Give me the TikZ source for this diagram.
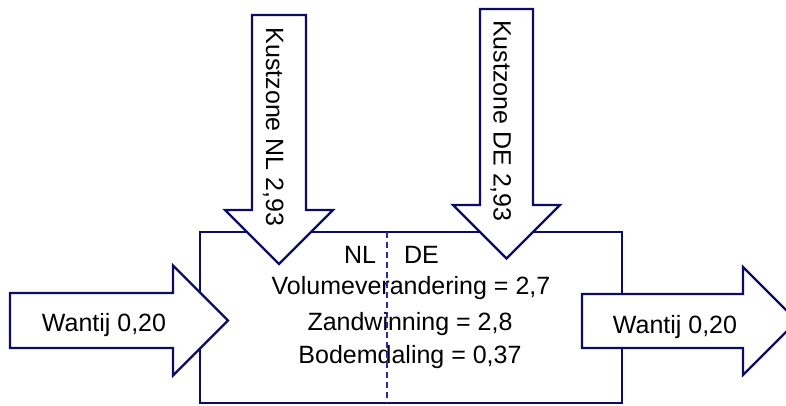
\documentclass[tikz,border=0pt]{standalone}
\usepackage{fontspec}
\setmainfont{Liberation Sans}
\definecolor{rand}{RGB}{12,12,100}
\definecolor{grens}{RGB}{40,40,170}
\begin{document}
\begin{tikzpicture}[x=0.75pt,y=-0.75pt,
    pijl/.style={draw=rand,line width=1.7pt,fill=white,line join=miter},
    tekst/.style={font=\fontsize{18.75}{22}\selectfont,anchor=base,inner sep=0pt}]
    \useasboundingbox (0,0) rectangle (786,406);
    \clip (0,0) rectangle (786,406);
    % kustzone
    \draw [rand,line width=1.7pt] (200,232) rectangle (622,403);
    % pijlen
    \path [pijl] (10,293) -- (173,293) -- (173,265.5) -- (228,320.5)
      -- (173,375.5) -- (173,348) -- (10,348) -- cycle;
    \path [pijl] (582,294) -- (743,294) -- (743,267) -- (797,321)
      -- (743,375) -- (743,348) -- (582,348) -- cycle;
    \path [pijl] (252,15) -- (306,15) -- (306,210) -- (333,210)
      -- (279,264) -- (225,210) -- (252,210) -- cycle;
    \path [pijl] (480,9) -- (533,9) -- (533,205) -- (560,205)
      -- (506.5,258.5) -- (453,205) -- (480,205) -- cycle;
    % teksten
    \node (W0) [tekst] at (104,331.5) {Wantij 0,20};
    \node (W1) [tekst] at (675,333) {Wantij 0,20};
    \node (KNL) [tekst,rotate=-90] at (266,127) {Kustzone NL 2,93};
    \node (KDE) [tekst,rotate=-90] at (493.5,121) {Kustzone DE 2,93};
    \node (NL) [tekst] at (360,263) {NL};
    \node (DE) [tekst] at (421.5,263) {DE};
    \node (V) [tekst] at (411,295) {Volumeverandering = 2,7};
    \node (Z) [tekst] at (410,330) {Zandwinning = 2,8};
    \node (B) [tekst] at (410,363) {Bodemdaling = 0,37};
    % grens NL-DE
    \coordinate (G0) at (387,232);
    \coordinate (G1) at (387,403);
    \draw [grens,line width=1.1pt,dash pattern=on 4.5pt off 3pt] (G0) -- (G1);
\end{tikzpicture}
\end{document}
